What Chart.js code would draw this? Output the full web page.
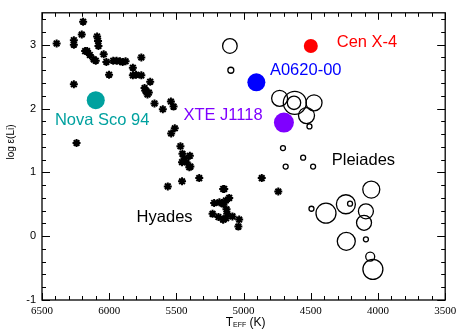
<!DOCTYPE html>
<html>
<head>
<meta charset="utf-8">
<script src="https://cdn.jsdelivr.net/npm/chart.js@4.4.1/dist/chart.umd.min.js"></script>
<style>
  html, body { margin: 0; padding: 0; background: #ffffff; }
  #wrap { width: 458px; height: 330px; position: relative; }
</style>
</head>
<body>
<div id="wrap"><canvas id="liChart"></canvas></div>
<script>
// Hyades (asterisks)
const hyadesTeff = [6391, 6263, 6263, 6194, 6204, 6179, 6164, 6144, 6115, 6100,
  6090, 6083, 6080, 6041, 6021, 6001, 5970, 5945, 5920, 5900, 5878,
  6263, 6243, 5761, 5824, 5824, 5800, 5761, 5737, 5730, 5705, 5715, 5695,
  5663, 5601, 5541, 5521, 5512, 5539, 5470, 5455, 5440, 5425, 5400, 5396,
  5458, 5404, 5564, 5458, 5330, 5144, 5219, 5180, 5150, 5132,
  5231, 5187, 5152, 5130, 5122, 5152, 5107, 5161, 5127, 5083, 5152, 5033, 5039,
  4865, 4742];
const hyadesLi = [3.02, 3.07, 3.00, 3.36, 3.16, 2.90, 2.90, 2.84, 2.77, 2.75,
  3.13, 3.06, 2.98, 2.85, 2.73, 2.53, 2.75, 2.75, 2.74, 2.73, 2.74,
  2.38, 1.46, 2.80, 2.64, 2.52, 2.53, 2.52, 2.32, 2.28, 2.25, 2.22, 2.42,
  2.08, 1.99, 2.11, 2.03, 1.69, 1.61, 1.41, 1.29, 1.22, 1.16, 1.26, 1.09,
  1.16, 1.08, 0.78, 0.86, 0.91, 0.74, 0.52, 0.53, 0.50, 0.56,
  0.35, 0.30, 0.26, 0.28, 0.35, 0.74, 0.60, 0.52, 0.42, 0.31, 0.26, 0.26, 0.15,
  0.91, 0.70];

// Pleiades (open circles, size = marker radius)
const pleiadesTeff = [5102, 5095, 4732, 4619, 4625, 4476, 4532, 4510, 4707, 4557,
  4687, 4483, 4050, 4239, 4208, 4387, 4495, 4090, 4104, 4236, 4090, 4058, 4038];
const pleiadesLi = [2.98, 2.60, 2.16, 2.09, 2.09, 2.09, 1.89, 1.72, 1.38, 1.23,
  1.09, 1.09, 0.73, 0.50, 0.51, 0.36, 0.43, 0.39, 0.21, -0.08, -0.05, -0.32, -0.52];
const pleiadesSize = [7.3, 3, 8, 11.5, 6.7, 8, 8, 2.5, 2.5, 2.5,
  2.5, 2.5, 8.5, 9.5, 2.5, 10, 2.5, 7.5, 7.5, 9, 2.5, 4.5, 10];

// Black hole binaries
const binaryNames = ['Nova Sco 94', 'Cen X-4', 'A0620-00', 'XTE J1118'];
const binaryTeff = [6100, 4500, 4905, 4700];
const binaryLi = [2.13, 2.98, 2.41, 1.78];
const binarySize = [9, 7, 9, 10];
const binaryColors = ['#00a19f', '#ff0000', '#0000ff', '#7f00ff'];

// Text annotations (left edge, vertical centre)
const noteText = ['Nova Sco 94', 'Cen X-4', 'A0620-00', 'XTE J1118', 'Pleiades', 'Hyades'];
const noteTeff = [6404, 4307, 4804, 5448, 4344, 5796];
const noteLi = [1.81, 3.04, 2.59, 1.89, 1.18, 0.29];
const noteColors = ['#00a19f', '#ff0000', '#0000ff', '#7f00ff', '#000000', '#000000'];

const xMin = 3500, xMax = 6500, yMin = -1, yMax = 3.5;
const sans = '"Liberation Sans", Arial, sans-serif';

// frame with inward IDL-style ticks on all four sides, plus labels
const framePlugin = {
  id: 'frame',
  afterDatasetsDraw(chart) {
    const ctx = chart.ctx;
    const a = chart.chartArea;
    const xs = chart.scales.x, ys = chart.scales.y;
    ctx.save();
    ctx.strokeStyle = '#000';
    ctx.lineWidth = 1.3;
    ctx.strokeRect(a.left, a.top, a.right - a.left, a.bottom - a.top);
    ctx.lineWidth = 1;
    ctx.beginPath();
    for (let t = xMin; t <= xMax; t += 100) {
      const px = Math.round(xs.getPixelForValue(t)) + 0.5;
      const len = t % 500 === 0 ? 7 : 4;
      ctx.moveTo(px, a.bottom); ctx.lineTo(px, a.bottom - len);
      ctx.moveTo(px, a.top); ctx.lineTo(px, a.top + len);
    }
    for (let i = 0; i <= 22; i++) {
      const v = yMin + i * 0.2;
      const py = Math.round(ys.getPixelForValue(v)) + 0.5;
      const len = i % 5 === 0 ? 8 : 4;
      ctx.moveTo(a.left, py); ctx.lineTo(a.left + len, py);
      ctx.moveTo(a.right, py); ctx.lineTo(a.right - len, py);
    }
    ctx.stroke();

    // annotations
    ctx.font = '16.5px ' + sans;
    ctx.textAlign = 'left';
    ctx.textBaseline = 'middle';
    noteText.forEach((txt, i) => {
      ctx.fillStyle = noteColors[i];
      ctx.fillText(txt, xs.getPixelForValue(noteTeff[i]), ys.getPixelForValue(noteLi[i]));
    });

    // axis titles
    ctx.fillStyle = '#000';
    const cx = (a.left + a.right) / 2;
    ctx.textBaseline = 'alphabetic';
    ctx.font = '12px ' + sans;
    const wT = ctx.measureText('T').width;
    ctx.font = '7px ' + sans;
    const wSub = ctx.measureText('EFF').width;
    ctx.font = '12px ' + sans;
    const wK = ctx.measureText(' (K)').width;
    let x0 = cx - (wT + wSub + wK) / 2 + 2;
    ctx.fillText('T', x0, 326);
    ctx.font = '7px ' + sans;
    ctx.fillText('EFF', x0 + wT, 327);
    ctx.font = '12px ' + sans;
    ctx.fillText(' (K)', x0 + wT + wSub, 326);

    ctx.translate(14, 142);
    ctx.rotate(-Math.PI / 2);
    ctx.textAlign = 'center';
    ctx.font = '10px ' + sans;
    ctx.fillText('log \u03b5(Li)', 0, 0);
    ctx.restore();
  }
};

new Chart(document.getElementById('liChart'), {
  type: 'bubble',
  data: {
    datasets: [
      {
        type: 'scatter',
        label: 'Hyades',
        data: hyadesTeff.map((t, i) => ({ x: t, y: hyadesLi[i] })),
        pointStyle: 'star',
        radius: 4,
        borderColor: '#000',
        backgroundColor: '#000',
        borderWidth: 2
      },
      {
        label: 'Pleiades',
        data: pleiadesTeff.map((t, i) => ({ x: t, y: pleiadesLi[i], r: pleiadesSize[i] })),
        borderColor: '#000',
        backgroundColor: 'rgba(0,0,0,0)',
        borderWidth: 1.3
      },
      ...binaryNames.map((name, i) => ({
        label: name,
        data: [{ x: binaryTeff[i], y: binaryLi[i], r: binarySize[i] }],
        backgroundColor: binaryColors[i],
        borderColor: binaryColors[i],
        borderWidth: 0
      }))
    ]
  },
  options: {
    responsive: true,
    maintainAspectRatio: false,
    animation: false,
    events: [],
    layout: { padding: { top: 12, right: 11, left: 0, bottom: 0 } },
    plugins: {
      legend: { display: false },
      tooltip: { enabled: false }
    },
    scales: {
      x: {
        type: 'linear',
        min: xMin,
        max: xMax,
        reverse: true,
        grid: { display: false, drawTicks: false },
        border: { display: false },
        ticks: {
          stepSize: 500,
          includeBounds: false,
          maxRotation: 0,
          autoSkip: false,
          color: '#000',
          padding: 5,
          font: { family: '"Liberation Serif", "Times New Roman", serif', size: 11 },
          callback: v => String(v)
        },
        afterFit: s => { s.height = 30; s.paddingLeft = 0; s.paddingRight = 0; }
      },
      y: {
        type: 'linear',
        min: yMin,
        max: yMax,
        grid: { display: false, drawTicks: false },
        border: { display: false },
        ticks: {
          stepSize: 1,
          includeBounds: false,
          color: '#000',
          padding: 6,
          font: { family: sans, size: 11 },
          callback: v => String(v)
        },
        afterFit: s => { s.width = 42; s.paddingTop = 0; s.paddingBottom = 0; }
      }
    }
  },
  plugins: [framePlugin]
});
</script>
</body>
</html>
